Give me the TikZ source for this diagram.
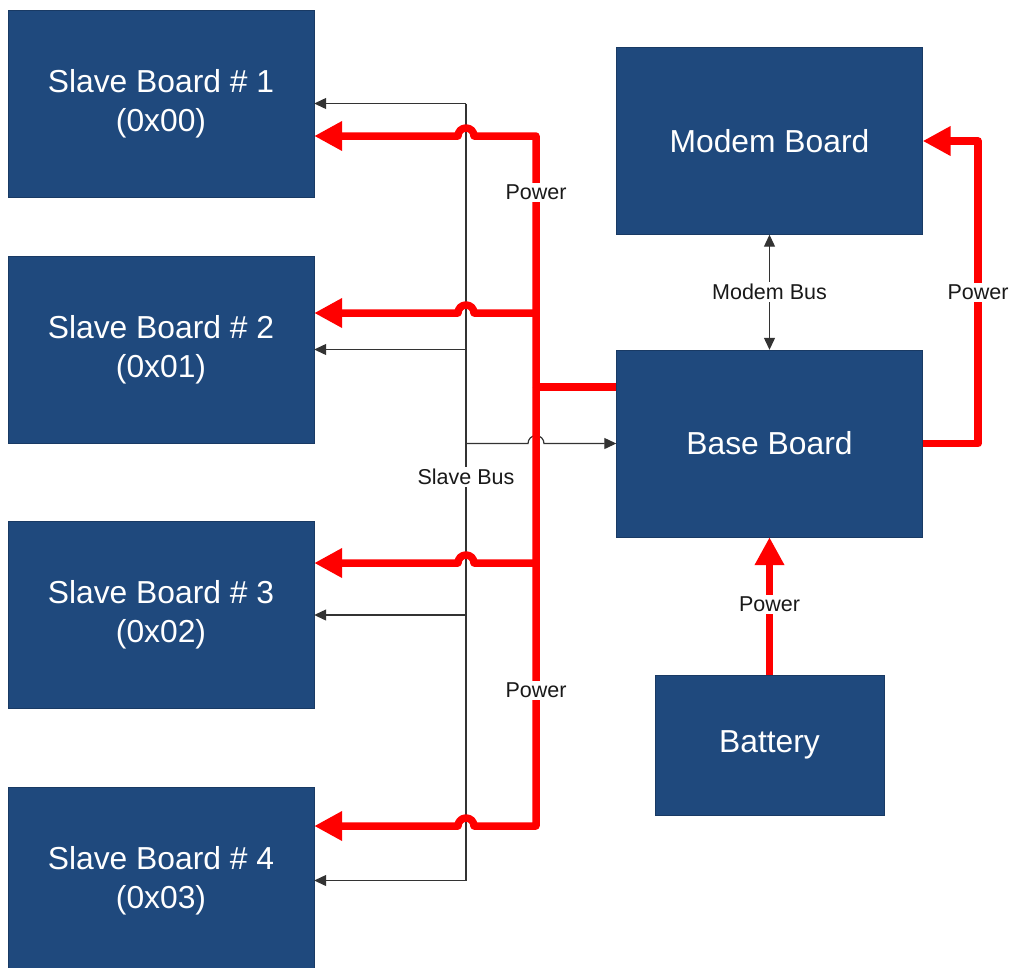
\documentclass[tikz,border=0pt]{standalone}
\usepackage{fontspec}
\setmainfont{Liberation Sans}
\usetikzlibrary{arrows.meta}
\definecolor{boardblue}{RGB}{31,73,125}
\definecolor{powerred}{RGB}{255,0,0}

\begin{document}
\begin{tikzpicture}[x=1pt, y=-1pt,
  board/.style = {draw=boardblue!80!black, fill=boardblue, text=white, align=center,
    font=\fontsize{31.8}{39}\selectfont, minimum width=306pt, minimum height=187pt, inner sep=0pt},
  bus/.style = {draw=black!80, line width=1.2pt},
  busarrow/.style = {bus, -{Triangle[length=12pt,width=11pt]}},
  power/.style = {draw=powerred, line width=7.5pt, line join=round},
  powerarrow/.style = {power, -{Triangle[length=28pt,width=28pt]}},
  lbl/.style = {fill=white, inner sep=2pt, text=black!90, font=\fontsize{21.5}{25}\selectfont}]
            \useasboundingbox (0,0) rectangle (1011,967);
            % boards
            \node[board](s1) at (161,103.5){Slave Board \# 1\\(0x00)};
            \node[board](s2) at (161,349.5){Slave Board \# 2\\(0x01)};
            \node[board](s3) at (161,615){Slave Board \# 3\\(0x02)};
            \node[board](s4) at (161,880.5){Slave Board \# 4\\(0x03)};
            \node[board](modem) at (769.5,141){Modem Board};
            \node[board](base) at (769.5,443.5){Base Board};
            \node[board, minimum width=229pt, minimum height=140pt](bat) at (769.5,745){Battery};
            % junctions
            \coordinate (btop) at (466,103.5);
            \coordinate (bbot) at (466,880.5);
            \coordinate (ptop) at (536,136);
            \coordinate (pbot) at (536,826);
            \coordinate (pj) at (536,387);
            \coordinate (pr) at (978,292);
            % slave bus
            \draw[bus] (btop) -- (bbot);
            \foreach \s in {s1,s2,s3,s4}
              \draw[busarrow] (btop |- \s.east) -- (\s.east);
            \draw[busarrow] (btop |- base.west) -- (528,443.5)
              arc[start angle=180, end angle=360, radius=8] -- (base.west);
            % power to the slaves
            \draw[powerarrow] (pj) -- (ptop) -- (474,136)
              arc[start angle=0, end angle=-180, radius=8] -- (s1.east |- ptop);
            \draw[powerarrow] (pj |- 0,313) -- (474,313)
              arc[start angle=0, end angle=-180, radius=8] -- (s2.east |- 0,313);
            \draw[powerarrow] (pj |- 0,563) -- (474,563)
              arc[start angle=0, end angle=-180, radius=8] -- (s3.east |- 0,563);
            \draw[powerarrow] (pj) -- (pbot) -- (474,826)
              arc[start angle=0, end angle=-180, radius=8] -- (s4.east |- pbot);
            \draw[power] (pj) -- (pj -| base.west);
            % power and bus of the base board
            \draw[powerarrow] (base.east) -| (pr) |- (modem.east);
            \draw[powerarrow] (bat.north) -- (base.south);
            \draw[bus, {Triangle[length=12pt,width=11pt]}-{Triangle[length=12pt,width=11pt]}]
              (modem.south) -- node[lbl](mb){Modem Bus} (base.north);
            % labels
            \node[lbl](pw1) at (ptop |- 0,192){Power};
            \node[lbl](pw2) at (ptop |- 0,690){Power};
            \node[lbl](pw3) at (pr){Power};
            \node[lbl](pw4) at (769.5,604){Power};
            \node[lbl](sb) at (btop |- 0,477){Slave Bus};
        \end{tikzpicture}
\end{document}
